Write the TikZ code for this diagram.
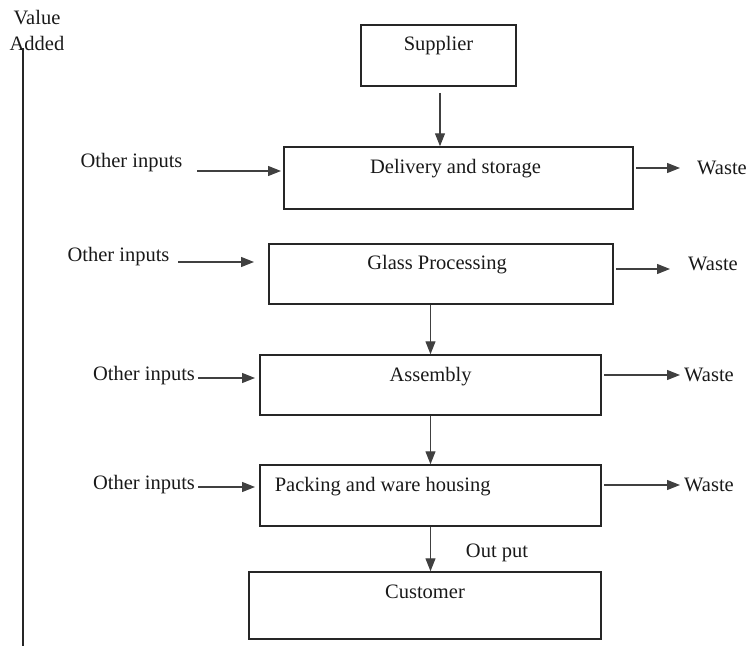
\documentclass[tikz,border=0pt]{standalone}
\usepackage{fontspec}
\setmainfont{Liberation Serif}
\usetikzlibrary{arrows.meta}
\begin{document}
\begin{tikzpicture}[x=1pt,y=-1pt,
  every node/.style={font=\fontsize{20.5}{24}\selectfont, text=black!90},
  box/.style={draw=black!85, line width=1.5pt, rectangle, inner sep=0pt},
  arr/.style={draw=black!75, line width=1.2pt, arrows={-Triangle[length=13pt,width=10pt]}},
  plain/.style={inner sep=0pt}]
\useasboundingbox (0,0) rectangle (751,646);
% value added axis
\node[plain] (val) at (37,18) {Value};
\node[plain] (add) at (37,43) {Added};
\coordinate (axt) at (23,48);
\coordinate (axb) at (23,646);
\draw[line width=1.5pt, black!85] (axt) -- (axb);
% boxes
\node[box, minimum width=155pt, minimum height=61pt,
  label={[anchor=center,yshift=-21pt]north:Supplier}] (sup) at (438.5,55.5) {};
\node[box, minimum width=349pt, minimum height=62pt,
  label={[anchor=center,yshift=-22pt,xshift=-3pt]north:Delivery and storage}] (del) at (458.5,178) {};
\node[box, minimum width=344pt, minimum height=60pt,
  label={[anchor=center,yshift=-21pt,xshift=-4pt]north:Glass Processing}] (gla) at (441,274) {};
\node[box, minimum width=341pt, minimum height=60pt,
  label={[anchor=center,yshift=-22pt]north:Assembly}] (asm) at (430.5,385) {};
\node[box, minimum width=341pt, minimum height=61pt,
  label={[anchor=west,yshift=-22pt,xshift=12pt]north west:Packing and ware housing}] (pak) at (430.5,495.5) {};
\node[box, minimum width=352pt, minimum height=67pt,
  label={[anchor=center,yshift=-21pt]north:Customer}] (cus) at (425,605.5) {};
% vertical flow
\draw[arr, shorten <=6pt] ([xshift=1.5pt]sup.south) -- ([xshift=1.5pt]sup.south |- del.north);
\draw[arr] (asm.north |- gla.south) -- (asm.north);
\draw[arr] (asm.south) -- (pak.north);
\draw[arr] (pak.south) -- (pak.south |- cus.north);
\node[plain] (out) at (497,553) {Out put};
% other inputs
\node[plain] (oi1) at (131.5,163) {Other inputs};
\node[plain] (oi2) at (118.5,257) {Other inputs};
\node[plain] (oi3) at (144,376) {Other inputs};
\node[plain] (oi4) at (144,485) {Other inputs};
\coordinate (a1) at (197,171); \coordinate (b1) at (281,171);
\coordinate (a2) at (178,262); \coordinate (b2) at (254,262);
\coordinate (a3) at (198,378); \coordinate (b3) at (255,378);
\coordinate (a4) at (198,487); \coordinate (b4) at (255,487);
\draw[arr] (a1) -- (b1);
\draw[arr] (a2) -- (b2);
\draw[arr] (a3) -- (b3);
\draw[arr] (a4) -- (b4);
% waste
\node[plain] (w1) at (722,168) {Waste};
\node[plain] (w2) at (713,264) {Waste};
\node[plain] (w3) at (709,375) {Waste};
\node[plain] (w4) at (709,485) {Waste};
\coordinate (c1) at (636,168); \coordinate (d1) at (680,168);
\coordinate (c2) at (616,269); \coordinate (d2) at (670,269);
\coordinate (c3) at (604,375); \coordinate (d3) at (680,375);
\coordinate (c4) at (604,485); \coordinate (d4) at (680,485);
\draw[arr] (c1) -- (d1);
\draw[arr] (c2) -- (d2);
\draw[arr] (c3) -- (d3);
\draw[arr] (c4) -- (d4);
\end{tikzpicture}
\end{document}
